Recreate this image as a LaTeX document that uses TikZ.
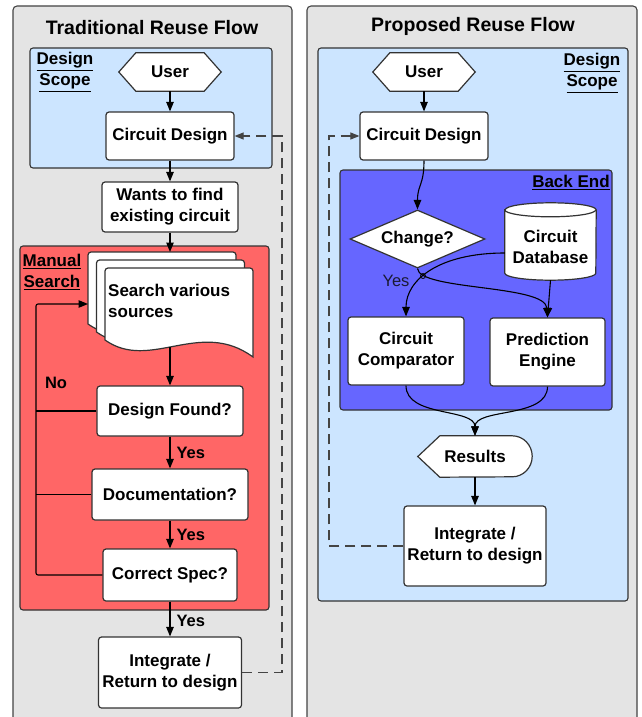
\documentclass[tikz,border=0pt]{standalone}
\usepackage{fontspec}
\setmainfont{Liberation Sans}
\usetikzlibrary{arrows.meta,shapes.geometric,calc}
\pgfdeclarelayer{panellayer}
\pgfdeclarelayer{shapelayer}
\pgfsetlayers{panellayer,shapelayer,main}
\definecolor{panelgray}{HTML}{E4E4E4}
\definecolor{panelline}{HTML}{444444}
\definecolor{scopeblue}{HTML}{CCE5FF}
\definecolor{searchred}{HTML}{FF6666}
\definecolor{backblue}{HTML}{6666FF}
\definecolor{edge}{HTML}{333333}
\definecolor{dashgray}{HTML}{444444}
\definecolor{yesdark}{HTML}{1A1A33}
\newcommand\boxfont{\fontsize{17}{21}\selectfont\bfseries}
\newcommand\titlefont{\fontsize{19.5}{24}\selectfont\bfseries}
\newcommand\yesfont{\fontsize{16.5}{20}\selectfont}
\begin{document}
\begin{tikzpicture}[x=1pt,y=-1pt,
 panel/.style={draw=panelline,line width=1.1pt,fill=panelgray,rounded corners=4pt},
 region/.style={draw=edge,line width=1.1pt,rounded corners=3pt},
 box/.style={draw=edge,line width=1.2pt,fill=white,rounded corners=3pt,inner sep=0pt,align=center,font=\boxfont},
 txt/.style={inner sep=0pt,align=center,font=\boxfont},
 shapeline/.style={draw=edge,line width=1.2pt,fill=white},
 conn/.style={draw=black,line width=1.1pt},
 arr/.style={conn,-{Triangle[length=9.5pt,width=7.5pt]}},
 dashconn/.style={draw=dashgray,line width=1.1pt,dash pattern=on 10pt off 6pt,-{Triangle[length=9pt,width=7pt]}},
 titletext/.style={inner sep=0pt,font=\titlefont},
 yeslbl/.style={inner sep=0pt,font=\yesfont\bfseries},
]
\useasboundingbox (0,0) rectangle (641,717);

\begin{pgfonlayer}{panellayer}
 \fill[white] (0,0) rectangle (641,717);
 \path[panel] (13,717) -- (13,6) -- (292,6) -- (292,717);
 \path[panel] (307,717) -- (307,6) -- (637,6) -- (637,717);
 \path[region,fill=scopeblue] (30,48) rectangle (272,168);
 \path[region,fill=searchred] (20,246) rectangle (269,610);
 \path[region,fill=scopeblue] (318,48) rectangle (628,601);
 \path[region,fill=backblue] (340,170) rectangle (612,410);
\end{pgfonlayer}

% titles and region labels
\node[titletext] (t1) at (152,27.5) {Traditional Reuse Flow};
\node[titletext] (t2) at (473,26.5) {Proposed Reuse Flow};
\node[txt] (ds1) at (65,72) {\underline{Design}\\\underline{Scope}};
\node[txt] (ds2) at (592,73) {\underline{Design}\\\underline{Scope}};
\node[txt] (ms) at (52,272) {\underline{Manual}\\\underline{Search}};
\node[txt] (be) at (571,182.5) {\underline{Back End}};

% ---------- left flow ----------
\node[txt,minimum width=102pt,minimum height=38pt] (user1) at (170,72) {User};
\node[box,minimum width=128pt,minimum height=48pt] (cd1) at (170,136) {Circuit Design};
\node[box,minimum width=136pt,minimum height=50pt] (want) at (170,207) {Wants to find\\existing circuit};
\node[txt,anchor=west,align=left] (search) at (108,300.5) {Search various\\ sources};
\coordinate (stacktop) at (170,252);
\coordinate (stackbot) at (170,347);
\node[box,minimum width=146pt,minimum height=50pt] (found) at (170,411) {Design Found?};
\node[box,minimum width=156pt,minimum height=51pt] (doc) at (170,494.5) {Documentation?};
\node[box,minimum width=134pt,minimum height=52pt] (spec) at (170,575) {Correct Spec?};
\node[box,minimum width=143pt,minimum height=71pt] (int1) at (170,672.5) {Integrate /\\Return to design};

\begin{pgfonlayer}{shapelayer}
 \path[shapeline] (user1.west) -- ([xshift=17pt]user1.north west) -- ([xshift=-17pt]user1.north east)
   -- (user1.east) -- ([xshift=-17pt]user1.south east) -- ([xshift=17pt]user1.south west) -- cycle;
 \foreach \dx/\dy in {-17/-16,-8.5/-8,0/0}{
  \path[shapeline,shift={(\dx,\dy)}] (105,340) [rounded corners=3pt] -- (105,268) -- (253,268) [sharp corners]
    -- (253,357) .. controls (200,318) and (150,372) .. (105,340) -- cycle;
 }
\end{pgfonlayer}

\draw[arr] (user1.south) -- (cd1.north);
\draw[arr] (cd1.south) -- (want.north);
\draw[arr] (want.south) -- (stacktop);
\draw[arr] (stackbot) -- (found.north);
\draw[arr] (found.south) -- node[yeslbl,right=6pt,pos=0.5] (y1) {Yes} (doc.north);
\draw[arr] (doc.south) -- node[yeslbl,right=6pt,pos=0.5] (y2) {Yes} (spec.north);
\draw[arr] (spec.south) -- node[yeslbl,right=6pt,pos=0.55] (y3) {Yes} (int1.north);

\coordinate (loopturn) at (36,304);
\coordinate (stackin) at (88,304);
\draw[arr,rounded corners=2pt] (spec.west) -- (spec.west -| loopturn) -- (loopturn) -- (stackin);
\draw[conn] (found.west) -- (found.west -| loopturn);
\draw[conn] (doc.west) -- (doc.west -| loopturn);
\node[yeslbl] (no) at (56,383) {No};

\coordinate (dashL) at (282,400);
\draw[dashconn] (int1.east) -- (int1.east -| dashL) -- (cd1.east -| dashL) -- (cd1.east);

% ---------- right flow ----------
\node[txt,minimum width=102pt,minimum height=38pt] (user2) at (424,72) {User};
\node[box,minimum width=128pt,minimum height=48pt] (cd2) at (424,136) {Circuit Design};
\node[diamond,draw=edge,line width=1.2pt,fill=white,inner sep=0pt,aspect=2.3,minimum width=135pt,minimum height=58pt,font=\boxfont] (chg) at (417.5,239) {Change?};
\node[txt,minimum width=91pt,minimum height=70pt] (db) at (550.5,245) {};
\node[txt] (dbtext) at (550.5,247) {Circuit\\Database};
\node[box,minimum width=116pt,minimum height=68pt] (cmp) at (406,351) {Circuit\\Comparator};
\node[box,minimum width=115pt,minimum height=68pt] (pe) at (547.5,352) {Prediction\\Engine};
\node[txt,minimum width=114pt,minimum height=41pt] (res) at (475,456.5) {Results};
\node[box,minimum width=142pt,minimum height=80pt] (int2) at (475,546) {Integrate /\\Return to design};

\begin{pgfonlayer}{shapelayer}
 \path[shapeline] (user2.west) -- ([xshift=17pt]user2.north west) -- ([xshift=-17pt]user2.north east)
   -- (user2.east) -- ([xshift=-17pt]user2.south east) -- ([xshift=17pt]user2.south west) -- cycle;
 \path[shapeline] (db.north west) -- ($(db.south west)+(0,-7)$)
   arc[start angle=180,end angle=0,x radius=45.5,y radius=7]
   -- (db.north east) arc[start angle=0,end angle=-180,x radius=45.5,y radius=7] -- cycle;
 \draw[draw=edge,line width=1.2pt] (db.north west) arc[start angle=180,end angle=0,x radius=45.5,y radius=7];
 \path[shapeline] (res.west) -- ([xshift=22pt]res.north west) -- ([xshift=-20pt]res.north east)
   arc[start angle=-90,end angle=90,x radius=20,y radius=20.5]
   -- ([xshift=22pt]res.south west) -- cycle;
\end{pgfonlayer}

\draw[arr] (user2.south) -- (cd2.north);
\draw[arr] (cd2.south) .. controls +(0,25) and +(0,-25) .. (chg.north);
\draw[arr] (chg.south) .. controls +(2,22) and +(-2,-33) .. (pe.north);
\draw[arr] ($(db.west)+(0,8)$) .. controls +(-65,0) and +(0,-37) .. (cmp.north);
\draw[arr] (db.south) -- (pe.north);
\coordinate (hop) at (423,276);
\draw[conn,line width=0.8pt] (hop) circle[radius=2.5];
\node[inner sep=0pt,font=\yesfont,text=yesdark] (y4) at (396,281) {Yes};
\draw[arr] (cmp.south) .. controls +(0,32) and +(0,-28) .. (res.north);
\draw[arr] (pe.south) .. controls +(0,32) and +(0,-28) .. (res.north);
\draw[arr] (res.south) -- (int2.north);

\coordinate (dashR) at (329,400);
\draw[dashconn] (int2.west) -- (int2.west -| dashR) -- (cd2.west -| dashR) -- (cd2.west);
\end{tikzpicture}
\end{document}
